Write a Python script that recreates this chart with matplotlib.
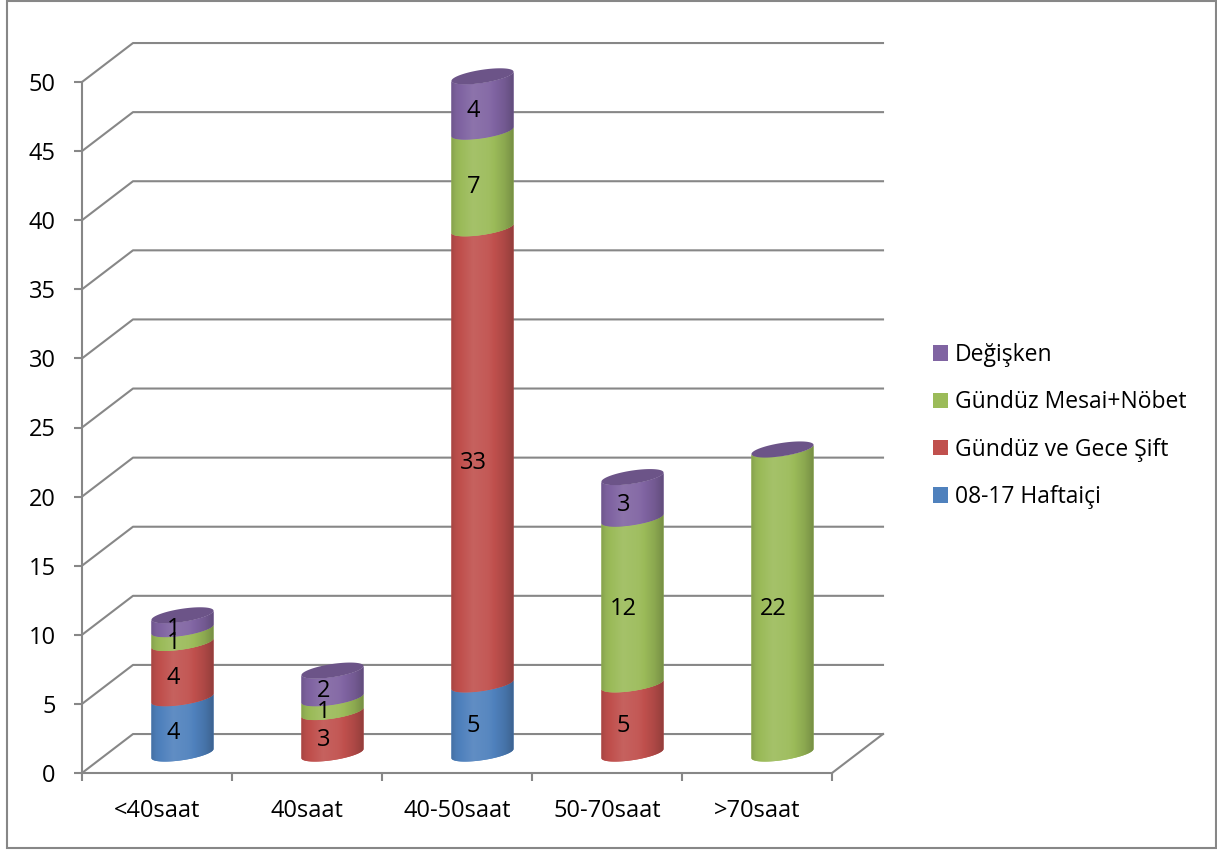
"""Weekly working hours by shift type, drawn as stacked 3d-style cylinders."""

import numpy as np
import matplotlib

matplotlib.use("Agg")
import matplotlib.pyplot as plt
from matplotlib.patches import Polygon, Patch, Rectangle
from matplotlib.colors import to_rgb

categories = ["<40saat", "40saat", "40-50saat", "50-70saat", ">70saat"]
series_names = ["08-17 Haftaiçi", "Gündüz ve Gece Şift", "Gündüz Mesai+Nöbet", "Değişken"]
haftaici = [4, 0, 5, 0, 0]
sift = [4, 3, 33, 5, 0]
nobet = [1, 1, 7, 12, 22]
degisken = [1, 2, 4, 3, 0]
series_colors = ["#4F81BD", "#C0504D", "#9BBB59", "#8064A2"]
y_ticks = list(range(0, 51, 5))

plt.rcParams["font.family"] = ["Open Sans", "DejaVu Sans"]

W, H = 1217, 850
GRID = "#878787"
FS = 17
FS_LEGEND = 16.5

# front plane of the box, in pixels
x0_px, y0_px = 82, 773
px_per_cat, px_per_val = 150, 13.82
depth_x, depth_y = 0.34, 2.82      # box depth in data units
xlim = (-0.5, 4.5 + depth_x)
ylim = (0, 53)

# cylinder shape in data units
rx, ry, shear = 0.207, 0.48, 0.33

fig = plt.figure(figsize=(W / 100, H / 100), dpi=100)
ax = fig.add_axes([
    x0_px / W,
    (H - y0_px) / H,
    (xlim[1] - xlim[0]) * px_per_cat / W,
    (ylim[1] - ylim[0]) * px_per_val / H,
])
ax.patch.set_visible(False)

# back wall gridlines and floor
for v in y_ticks:
    ax.plot([-0.5, -0.5 + depth_x, 4.5 + depth_x], [v, v + depth_y, v + depth_y],
            color=GRID, lw=1.5, zorder=1, clip_on=False)
ax.plot([4.5, 4.5 + depth_x], [0, depth_y], color=GRID, lw=1.5, zorder=1, clip_on=False)


def ellipse_pts(xc, v, t):
    return xc + rx * np.cos(t), v + ry * np.sin(t) + shear * np.cos(t)


def side_shade(color):
    t = np.linspace(0, 1, 256)
    f = np.interp(t, [0, 0.08, 0.35, 0.6, 0.85, 1.0], [0.86, 0.96, 1.1, 1.05, 0.9, 0.76])[:, None]
    rgb = np.array(to_rgb(color))[None, :]
    img = np.where(f <= 1, rgb * f, rgb + (1 - rgb) * (f - 1))
    return np.clip(img, 0, 1)[None, :, :]


stack = [haftaici, sift, nobet, degisken]
front = np.linspace(np.pi, 2 * np.pi, 80)
for i in range(len(categories)):
    xc = i + depth_x / 2
    base = depth_y / 2
    bottom = 0
    for values, color in zip(stack, series_colors):
        val = values[i]
        if val == 0:
            continue
        top = bottom + val
        bx, by = ellipse_pts(xc, base + bottom, front)
        tx, ty = ellipse_pts(xc, base + top, front[::-1])
        poly = Polygon(np.column_stack([np.r_[bx, tx], np.r_[by, ty]]),
                       closed=True, facecolor=color, edgecolor="none", zorder=2)
        ax.add_patch(poly)
        im = ax.imshow(side_shade(color), extent=[xc - rx, xc + rx, base + bottom - 1, base + top + 1],
                       aspect="auto", interpolation="bilinear", zorder=3)
        im.set_clip_path(poly)
        # value label, sitting slightly in front of the cylinder axis
        ax.text(i + 0.32 * depth_x, (bottom + top) / 2 + 0.32 * depth_y, str(val),
                ha="center", va="center", fontsize=FS, color="black", zorder=5)
        bottom = top
    # top cap
    cx, cy = ellipse_pts(xc, base + bottom, np.linspace(0, 2 * np.pi, 120))
    cap = np.array(to_rgb(series_colors[-1])) * 0.84
    ax.add_patch(Polygon(np.column_stack([cx, cy]), closed=True, facecolor=cap,
                         edgecolor="none", zorder=4, clip_on=False))

ax.set_xlim(*xlim)
ax.set_ylim(*ylim)

for side in ["top", "right"]:
    ax.spines[side].set_visible(False)
ax.spines["left"].set_bounds(0, 50)
ax.spines["bottom"].set_bounds(-0.5, 4.5)
for side in ["left", "bottom"]:
    ax.spines[side].set_color(GRID)
    ax.spines[side].set_linewidth(1.5)
    ax.spines[side].set_zorder(1)

ax.set_yticks(y_ticks)
ax.tick_params(axis="y", direction="out", length=5.5, width=1.5, color=GRID,
               pad=13.5, labelsize=FS)
ax.set_xticks(range(len(categories)), categories)
ax.set_xticks(np.arange(-0.5, len(categories), 1), minor=True)
ax.tick_params(axis="x", which="major", length=0, pad=19, labelsize=FS)
ax.tick_params(axis="x", which="minor", direction="out", length=6, width=1.5, color=GRID)

handles = [Patch(facecolor=c, edgecolor="none", label=n)
           for n, c in zip(series_names, series_colors)][::-1]
fig.legend(handles=handles, loc="upper left", bbox_to_anchor=(933 / W, 1 - 343 / H),
           frameon=False, fontsize=FS_LEGEND, handlelength=0.66, handleheight=0.66,
           handletextpad=0.3, labelspacing=1.02, borderpad=0, borderaxespad=0)

# chart area border
fig.add_artist(Rectangle((7 / W, (H - 848) / H), 1209 / W, 847 / H, transform=fig.transFigure,
                         fill=False, edgecolor=GRID, lw=1.5))

fig.savefig("out.png", dpi=100)
plt.close(fig)
